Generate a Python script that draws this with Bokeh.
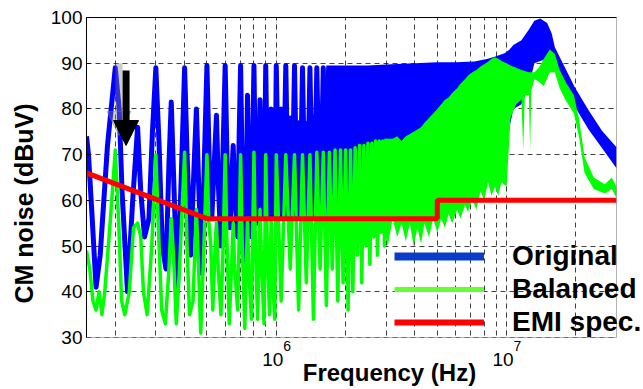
from bokeh.plotting import figure
from bokeh.models import (Range1d, FixedTicker, Legend, LegendItem, Label,
                          Arrow, NormalHead, Grid, BoxAnnotation, LogAxis)
from bokeh.embed import file_html
from bokeh.resources import INLINE

# ---------------- data ----------------
# Original (blue) - resolved harmonics, frequency in kHz, level in dBuV
orig_f_khz = [150, 153, 158, 165, 172, 185, 200, 208, 214, 226, 238, 250, 258, 268,
              280, 290, 300, 310, 320, 332, 342, 350, 358, 372, 385, 400, 410, 425,
              440, 450, 460, 475, 488, 500, 512, 525, 540, 550, 560, 575, 588, 600,
              612, 630, 645, 650, 662, 680, 690, 700, 712, 730, 745, 750, 760, 780,
              792, 800, 812, 830, 850, 865, 885, 900, 915, 935, 950, 965, 985, 1000,
              1020, 1040, 1050, 1070, 1100, 1120, 1140, 1150, 1170, 1200, 1220, 1240,
              1250, 1270, 1300, 1320, 1340, 1350, 1370, 1400, 1420, 1440, 1450, 1470,
              1500, 1520, 1540, 1550, 1570, 1600, 1620, 1650, 1680, 1700]
orig_db = [74, 70, 58, 41, 48, 72, 89, 80, 62, 40, 60, 76, 62, 52,
           56, 75, 89, 72, 50, 45, 68, 81.5, 66, 40, 62, 89, 70, 48,
           68, 80, 64, 44, 70, 89.5, 68, 56, 70, 78.6, 64, 50, 72, 89.5,
           68, 54, 68, 72, 60, 52, 74, 89.5, 66, 45, 70, 83, 64, 52,
           76, 89.5, 66, 55, 82, 62, 56, 89.5, 64, 56, 80, 60, 56, 89.5,
           66, 57, 80, 57, 89.5, 66, 58, 78, 58, 89.5, 68, 60,
           77, 60, 89, 70, 62, 76, 62, 89, 72, 66, 78, 66,
           89, 74, 68, 77, 68, 89, 76, 79, 76, 89]

# Original (blue) - dense part, envelope in MHz
orig_band_f_mhz = [1.0, 1.3, 1.6, 1.65, 2.0, 2.5, 3.0, 4.0, 5.0, 6.0, 7.25, 8.3, 9.0,
                   9.8, 10.3, 10.7, 11.6, 12.5, 13.2, 14.0, 15.0, 15.7, 16.2, 17.3,
                   19.8, 22.7, 25.9, 30.0]
orig_band_hi = [76, 77, 79, 89.5, 89.5, 89.5, 89.7, 90, 90.2, 90.2, 90.4, 91, 91.5,
                92.2, 93, 94, 95, 97.4, 99.3, 99.8, 98.8, 96.5, 93.5, 90.6,
                84.7, 79.7, 75.3, 71.6]
orig_band_lo = [56, 56, 56, 56, 56, 57, 58, 60, 62, 63, 64, 66, 67,
                68, 76, 80, 81, 85, 90, 90.5, 91, 91, 89, 87,
                80.5, 75.5, 71.5, 67]

# Balanced (green) - resolved harmonics, kHz
bal_f_khz = [150, 155, 160, 165, 170, 175, 180, 190, 200, 207, 213, 220, 230, 240,
             250, 258, 265, 275, 288, 300, 310, 318, 330, 342, 350, 358, 368, 380,
             400, 410, 420, 435, 450, 460, 470, 485, 500, 510, 520, 530, 545, 550,
             560, 575, 588, 600, 610, 625, 645, 650, 660, 680, 690, 700, 712, 730,
             745, 750, 760, 780, 792, 800, 812, 830, 850, 865, 885, 900, 915, 935,
             950, 965, 985, 1000, 1050, 1100, 1150, 1200, 1250, 1300, 1350, 1400,
             1450, 1500, 1550, 1600, 1650, 1700, 1750, 1800, 1850, 1900, 1950, 2000,
             2050, 2100, 2150, 2200, 2250, 2300, 2350, 2400, 2450, 2500, 2550, 2600,
             2650, 2700, 2750, 2800, 2850, 2900, 2950, 3000]
bal_db = [49, 45, 38, 36, 40, 35, 40, 55, 71, 55, 38, 35, 40, 54,
          55, 52, 40, 35, 50, 70, 50, 36, 33, 45, 56, 48, 33, 45,
          70.5, 50, 35, 38, 58, 45, 31, 50, 70, 55, 50, 36, 52, 55,
          45, 35, 50, 70, 52, 33, 50, 55, 45, 36, 52, 70, 50, 32,
          50, 56, 45, 34, 55, 70.5, 50, 34, 58, 45, 33, 70, 48, 35,
          56, 42, 34, 70, 38, 70, 45, 70, 36, 70, 42, 70,
          34, 70.5, 45, 70.5, 37, 70.5, 45, 71, 38, 71, 42, 71,
          36, 71, 40, 71.5, 48, 72, 42, 72, 50, 72.5, 46, 72.5,
          52, 73, 48, 73, 53, 73, 50, 73.5]

# Balanced (green) - dense part, envelope in MHz
bal_band_f_mhz = [2.9, 3.05, 3.2, 3.35, 3.5, 3.65, 3.8, 3.95, 4.1, 4.25, 4.4, 4.6, 4.8,
                  5.0, 5.2, 5.4, 5.6, 5.8, 6.1, 6.3, 6.6, 6.8, 7.1, 7.4, 7.7, 8.0,
                  8.3, 8.6, 8.9, 9.2, 9.5, 10.0, 10.4, 11.0, 11.6, 11.8, 12.0, 12.5,
                  12.65, 12.8, 13.2, 13.8, 14.5, 15.4, 16.2, 17.0, 18.0, 19.6, 20.6,
                  21.8, 23.9, 26.7, 28.6, 30.0]
bal_band_hi = [73, 73.5, 73.5, 74, 73, 74, 74.5, 75, 75.5, 76, 77, 78, 79,
               80, 81, 82, 82.5, 83.5, 84.5, 85.5, 86.5, 87.3, 88, 88.5, 89.3, 89.8,
               90.3, 91, 91.3, 91, 90.5, 90, 89.5, 89, 88.5, 88.4, 88.3, 88,
               88, 88, 88, 89, 91, 93, 92, 88.5, 86, 83, 78,
               69.5, 65, 63.5, 65, 63]
bal_band_lo = [55, 50, 56, 52, 55, 51, 55, 50, 54, 50.5, 55, 52, 56,
               53, 56, 54, 57, 55, 58, 56, 59, 57.5, 60, 58, 62, 60,
               64, 61, 63, 61, 64, 63, 78, 81, 82, 71, 83, 83,
               71, 84, 86.5, 86, 85, 88, 88, 84.5, 82, 79, 74,
               66, 62.5, 61.5, 62.5, 60.5]

# EMI specification (red)
emi_f_khz = [150, 500, 5000, 5000, 30000]
emi_db = [66, 56, 56, 60, 60]

# axes
x_min, x_max = 150e3, 30e6
y_min, y_max = 30, 100
x_major_ticks = [1e6, 1e7]
x_major_exponents = ["6", "7"]
x_minor_ticks = [2e5, 3e5, 4e5, 5e5, 6e5, 7e5, 8e5, 9e5,
                 2e6, 3e6, 4e6, 5e6, 6e6, 7e6, 8e6, 9e6, 2e7]
y_ticks = [30, 40, 50, 60, 70, 80, 90, 100]

legend_labels = ["Original", "Balanced", "EMI spec."]

# ---------------- figure ----------------
BLUE = "#0000ff"
GREEN = "#00ff00"
RED = "#ff0000"

# the frame is stretched to the page's right and bottom edges so that the legend
# and the x-axis texts (which sit outside the data box) are not clipped
view_x_right = 3.93e7
view_y_bottom = 18.625

p = figure(width=643, height=389, x_axis_type="log", x_axis_location=None,
           x_range=Range1d(x_min, view_x_right), y_range=Range1d(view_y_bottom, y_max),
           output_backend="svg", toolbar_location=None,
           min_border_left=86, min_border_right=0, min_border_top=17,
           min_border_bottom=0)
p.background_fill_color = "white"
p.border_fill_color = "white"
p.outline_line_color = None

xt = FixedTicker(ticks=x_major_ticks, minor_ticks=x_minor_ticks)
yt = FixedTicker(ticks=y_ticks)
p.yaxis.ticker = yt
p.ygrid.ticker = yt
xgrid = Grid(dimension=0, ticker=xt)
p.add_layout(xgrid)
for g in (xgrid, p.ygrid):
    g.grid_line_color = "black"
    g.grid_line_dash = "5 4"
    g.grid_line_alpha = 0.75
    g.grid_line_width = 1
xgrid.minor_grid_line_color = "black"
xgrid.minor_grid_line_dash = "5 4"
xgrid.minor_grid_line_alpha = 0.75

ya = p.yaxis[0]
ya.bounds = (y_min, y_max)
ya.axis_line_color = "black"
ya.major_tick_in = 4
ya.major_tick_out = 0
ya.minor_tick_in = 0
ya.minor_tick_out = 0
ya.major_label_text_font = "Liberation Sans"
ya.major_label_text_font_size = "19px"
ya.major_label_text_color = "black"
ya.major_label_standoff = 4
ya.axis_label = "CM noise (dBuV)"
ya.axis_label_text_font = "Liberation Sans"
ya.axis_label_text_font_size = "25px"
ya.axis_label_text_font_style = "bold"
ya.axis_label_text_color = "black"
ya.axis_label_standoff = 10

# top edge of the box
top_axis = LogAxis(bounds=(x_min, x_max), ticker=FixedTicker(ticks=[]),
                   axis_line_color="black", major_tick_in=0, major_tick_out=0,
                   minor_tick_in=0, minor_tick_out=0)
p.add_layout(top_axis, "above")

# ---------------- series ----------------
orig_f = [f * 1e3 for f in orig_f_khz]
orig_band_f = [f * 1e6 for f in orig_band_f_mhz]
bal_f = [f * 1e3 for f in bal_f_khz]
bal_band_f = [f * 1e6 for f in bal_band_f_mhz]
emi_f = [f * 1e3 for f in emi_f_khz]

p.varea(x=orig_band_f, y1=orig_band_lo, y2=orig_band_hi, fill_color=BLUE)
p.line(orig_f, orig_db, line_color=BLUE, line_width=5, line_join="round")
p.line(bal_f, bal_db, line_color=GREEN, line_width=3.5, line_join="round")
p.varea(x=bal_band_f, y1=bal_band_lo, y2=bal_band_hi, fill_color=GREEN)
p.line(emi_f, emi_db, line_color=RED, line_width=5)

# white areas outside the data box, then the box itself
p.add_layout(BoxAnnotation(left=x_max, fill_color="white", fill_alpha=1,
                           line_color=None))
p.add_layout(BoxAnnotation(top=y_min, fill_color="white", fill_alpha=1,
                           line_color=None))
p.add_layout(BoxAnnotation(left=x_min, right=x_max, bottom=y_min, top=y_max,
                           fill_alpha=0, line_color="black", line_width=1))

# x tick labels 10^6, 10^7
tick_base_db, tick_exp_db = 25.2, 28.1
for t, e in zip(x_major_ticks, x_major_exponents):
    p.add_layout(Label(x=t, y=tick_base_db, text="10", x_offset=7,
                       text_align="right", text_baseline="alphabetic",
                       text_font="Liberation Sans", text_font_size="19px",
                       text_color="black"))
    p.add_layout(Label(x=t, y=tick_exp_db, text=e, x_offset=7,
                       text_align="left", text_baseline="alphabetic",
                       text_font="Liberation Sans", text_font_size="14px",
                       text_color="black"))

# x axis title placed like the reference (off-centre)
xlabel_f, xlabel_db = 3.1e6, 22.4
p.add_layout(Label(x=xlabel_f, y=xlabel_db, text="Frequency (Hz)",
                   text_font="Liberation Sans", text_font_size="24px",
                   text_font_style="bold", text_color="black",
                   text_align="center", text_baseline="alphabetic"))

# arrow (ghost + black)
ghost_f, ghost_top, ghost_tip = 207.5e3, 90.0, 74.2
arrow_f, arrow_top, arrow_tip = 222.8e3, 88.4, 72.0
p.add_layout(Arrow(end=NormalHead(size=24, fill_color="gray", line_color="gray",
                                  fill_alpha=0.4, line_alpha=0.4),
                   x_start=ghost_f, y_start=ghost_top, x_end=ghost_f, y_end=ghost_tip,
                   line_color="gray", line_alpha=0.4, line_width=7))
p.add_layout(Arrow(end=NormalHead(size=25, fill_color="black", line_color="black"),
                   x_start=arrow_f, y_start=arrow_top, x_end=arrow_f, y_end=arrow_tip,
                   line_color="black", line_width=7))

# legend (proxy renderers: one point placed outside the visible range)
proxy_x = [x_min]
proxy_y = [view_y_bottom - 50]
lb = p.line(proxy_x, proxy_y, line_color="#0a3ccc", line_width=8)
lg = p.line(proxy_x, proxy_y, line_color="#66ff33", line_width=5)
lr = p.line(proxy_x, proxy_y, line_color=RED, line_width=6)
legend = Legend(items=[LegendItem(label=legend_labels[0], renderers=[lb]),
                       LegendItem(label=legend_labels[1], renderers=[lg]),
                       LegendItem(label=legend_labels[2], renderers=[lr])],
                location=(308, 51), orientation="vertical",
                glyph_width=90, glyph_height=28, label_height=28,
                label_standoff=28, spacing=1, padding=0, margin=0,
                border_line_color=None, background_fill_alpha=0,
                label_text_font="Liberation Sans", label_text_font_size="28px",
                label_text_font_style="bold", label_text_color="black")
p.add_layout(legend)

open("out.html", "w").write(file_html(p, INLINE))
